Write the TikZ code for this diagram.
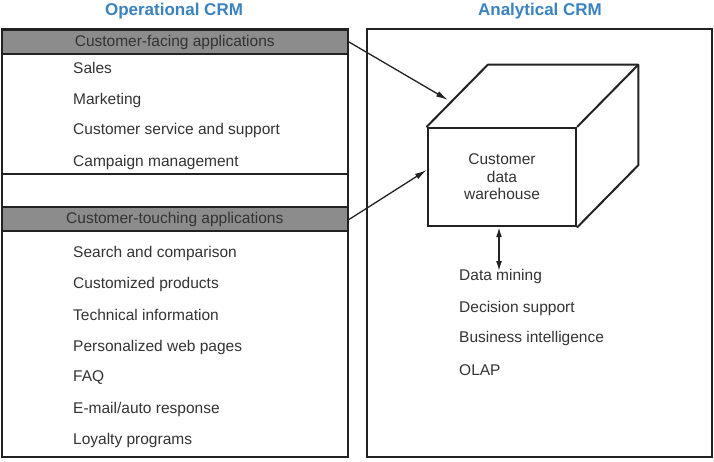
\documentclass[tikz,border=0pt]{standalone}
\usepackage{fontspec}
\setmainfont{Liberation Sans}
\usetikzlibrary{arrows.meta,calc}
\definecolor{titleblue}{HTML}{3A82C0}
\definecolor{hdrgray}{HTML}{8C8C8C}
\definecolor{txtgray}{HTML}{333333}
\definecolor{linegray}{HTML}{222222}
\begin{document}
\begin{tikzpicture}[x=1pt,y=-1pt,
  title/.style={font=\fontsize{17}{20}\selectfont\bfseries, text=titleblue},
  item/.style={font=\fontsize{15.5}{18}\selectfont, text=txtgray, anchor=west, inner sep=0pt},
  header/.style={draw=linegray, line width=2pt, fill=hdrgray, minimum width=346.5pt, minimum height=24pt, inner sep=0pt, font=\fontsize{15.5}{18}\selectfont, text=txtgray},
  frame/.style={draw=linegray, line width=2pt},
  arr/.style={draw=linegray, line width=1.3pt, -{Latex[length=12pt,width=6pt]}},
  darr/.style={draw=linegray, line width=1.5pt, {Latex[length=10pt,width=6pt]}-{Latex[length=10pt,width=6pt]}}
]
\useasboundingbox (0,0) rectangle (714,462);

% titles
\node[title] (t1) at (174,11) {Operational CRM};
\node[title] (t2) at (540,11) {Analytical CRM};

% left frame
\draw[frame] (1.5,29) rectangle (348,457);
\draw[frame] (1.5,174) -- (348,174);
\node[header] (h1) at (174.75,42) {Customer-facing applications};
\node[header] (h2) at (174.75,219.5) {Customer-touching applications};

% items left
\node[item] (s1) at (73,68) {Sales};
\node[item] (s2) at (73,100) {Marketing};
\node[item] (s3) at (73,130) {Customer service and support};
\node[item] (s4) at (73,162) {Campaign management};
\node[item] (c1) at (73,253) {Search and comparison};
\node[item] (c2) at (73,284) {Customized products};
\node[item] (c3) at (73,315) {Technical information};
\node[item] (c4) at (73,347) {Personalized web pages};
\node[item] (c5) at (73,378) {FAQ};
\node[item] (c6) at (73,409) {E-mail/auto response};
\node[item] (c7) at (73,440) {Loyalty programs};

% right frame
\draw[frame] (367,29) rectangle (712,457);

% cube
\node[draw=linegray, line width=2.5pt, fill=white, minimum width=148pt, minimum height=98pt, align=center, font=\fontsize{15.5}{17.5}\selectfont, text=txtgray] (front) at (502,177) {Customer\\data\\warehouse};
\coordinate (btl) at ($(front.north west)+(61,-62)$);
\coordinate (btr) at ($(front.north east)+(61,-62)$);
\coordinate (bbr) at ($(front.south east)+(61,-62)$);
\draw[frame, line join=round, line cap=round] (front.north west) -- (btl) -- (btr) -- (bbr) -- (front.south east);
\draw[frame, line cap=round] (front.north east) -- (btr);

\coordinate (topin) at (448,100);
\coordinate (frontin) at ($(front.west)+(0,-7)$);
\coordinate (mine) at (499,271);

\draw[arr] (h1.east) -- (topin);
\draw[arr] (h2.east) -- (frontin);
\draw[darr] ($(front.south)+(-3,0)$) -- (mine);

% analytical items
\node[item] (a1) at (459,276) {Data mining};
\node[item] (a2) at (459,308) {Decision support};
\node[item] (a3) at (459,338) {Business intelligence};
\node[item] (a4) at (459,370) {OLAP};
\end{tikzpicture}
\end{document}
